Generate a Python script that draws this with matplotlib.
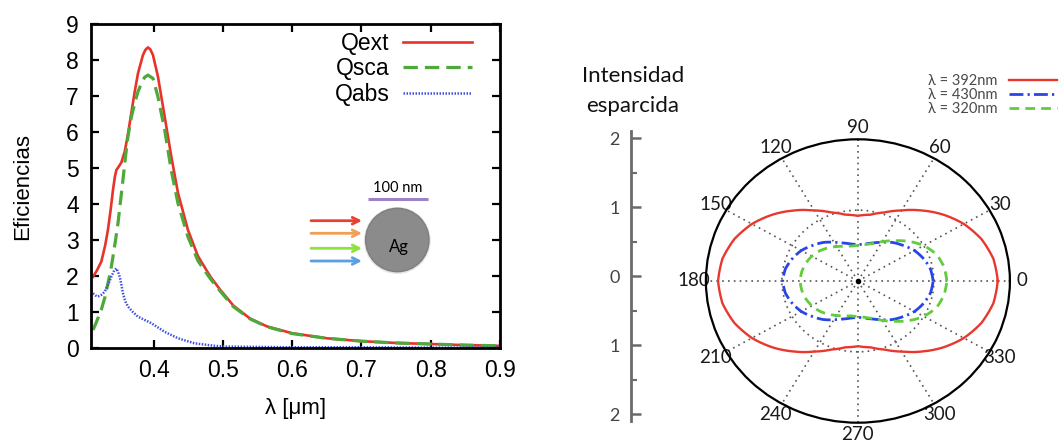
import numpy as np
import matplotlib
matplotlib.use("Agg")
import matplotlib.pyplot as plt
from matplotlib.patches import Circle

# Mie efficiencies of a 100 nm Ag sphere (wavelength in micrometres)
lam_ext = [0.3125, 0.318, 0.3245, 0.330, 0.334, 0.338, 0.3413, 0.344, 0.3461,
           0.350, 0.3533, 0.3582, 0.363, 0.3677, 0.3725, 0.3774, 0.3846, 0.388,
           0.3918, 0.395, 0.399, 0.4062, 0.4159, 0.4254, 0.4351, 0.4495, 0.464,
           0.482, 0.496, 0.515, 0.539, 0.5635, 0.60, 0.65, 0.70, 0.75, 0.80,
           0.85, 0.90]
q_ext = [1.98, 2.15, 2.40, 2.85, 3.28, 3.85, 4.39, 4.75, 4.94,
         5.05, 5.15, 5.45, 5.95, 6.52, 7.10, 7.63, 8.14, 8.28,
         8.35, 8.30, 8.14, 7.54, 6.43, 5.33, 4.31, 3.28, 2.55,
         1.98, 1.62, 1.18, 0.82, 0.60, 0.41, 0.27, 0.19, 0.14, 0.11,
         0.08, 0.06]

lam_sca = [0.3125, 0.318, 0.3244, 0.3295, 0.3341, 0.338, 0.3413, 0.345, 0.3485,
           0.352, 0.3557, 0.3593, 0.3629, 0.3677, 0.3726, 0.3774, 0.3822, 0.387,
           0.3918, 0.399, 0.4062, 0.4159, 0.4254, 0.4351, 0.4495, 0.464, 0.482,
           0.496, 0.515, 0.539, 0.5635, 0.60, 0.65, 0.70, 0.75, 0.80, 0.85, 0.90]
q_sca = [0.50, 0.75, 1.06, 1.40, 1.80, 2.15, 2.54, 3.00, 3.46,
         4.05, 4.67, 5.30, 5.87, 6.40, 6.80, 7.12, 7.35, 7.52,
         7.58, 7.49, 6.98, 6.06, 4.94, 4.02, 3.09, 2.42, 1.92,
         1.58, 1.15, 0.81, 0.59, 0.40, 0.27, 0.19, 0.14, 0.11, 0.08, 0.06]

lam_abs = [0.3125, 0.316, 0.3196, 0.324, 0.3293, 0.334, 0.3389, 0.343, 0.3461,
           0.3485, 0.351, 0.3535, 0.3557, 0.359, 0.3629, 0.370, 0.3774, 0.3966,
           0.4159, 0.4351, 0.4591, 0.488, 0.505, 0.55, 0.60, 0.70, 0.80, 0.90]
q_abs = [1.52, 1.46, 1.43, 1.47, 1.56, 1.75, 1.98, 2.15, 2.21,
         2.12, 1.98, 1.75, 1.52, 1.30, 1.15, 1.00, 0.87, 0.69,
         0.45, 0.27, 0.13, 0.06, 0.04, 0.03, 0.02, 0.02, 0.01, 0.01]

# scattered intensity vs angle (degrees)
theta_deg = list(range(0, 361, 10))
i_392 = [1.84, 1.81, 1.73, 1.61, 1.46, 1.30, 1.15, 1.03, 0.95, 0.92,
         0.95, 1.03, 1.15, 1.30, 1.46, 1.61, 1.73, 1.81, 1.84,
         1.81, 1.73, 1.61, 1.46, 1.30, 1.15, 1.03, 0.95, 0.92,
         0.95, 1.03, 1.15, 1.30, 1.46, 1.61, 1.73, 1.81, 1.84]
i_430 = [0.99, 0.97, 0.92, 0.86, 0.78, 0.71, 0.63, 0.57, 0.53, 0.51,
         0.53, 0.57, 0.63, 0.71, 0.78, 0.86, 0.92, 0.97, 0.99,
         0.97, 0.92, 0.86, 0.78, 0.71, 0.63, 0.57, 0.53, 0.51,
         0.53, 0.57, 0.63, 0.71, 0.78, 0.86, 0.92, 0.97, 0.99]
i_320 = [1.17, 1.15, 1.10, 1.00, 0.87, 0.74, 0.64, 0.56, 0.52, 0.50,
         0.50, 0.52, 0.56, 0.61, 0.66, 0.70, 0.73, 0.75, 0.76,
         0.75, 0.73, 0.70, 0.66, 0.61, 0.56, 0.52, 0.50, 0.50,
         0.52, 0.56, 0.64, 0.74, 0.87, 1.00, 1.10, 1.15, 1.17]

angle_ticks = list(range(0, 360, 30))
scale_ticks = [-2, -1, 0, 1, 2]
scale_labels = ["2", "1", "0", "1", "2"]

W, H = 1059, 442
sans = ["Liberation Sans", "DejaVu Sans"]
soft = ["Lato", "DejaVu Sans"]

fig = plt.figure(figsize=(W / 100, H / 100), dpi=100)

# --- efficiencies -----------------------------------------------------
ax = fig.add_axes([91.3 / W, 1 - 348 / H, (500 - 91.3) / W, (348 - 24) / H])
ax.plot(lam_ext, q_ext, color="#e8322a", lw=1.9, label="Qext")
ax.plot(lam_sca, q_sca, color="#4ea83a", lw=2.3, ls=(0, (4.5, 2.2)), label="Qsca")
ax.plot(lam_abs, q_abs, color="#3d4fe0", lw=1.8, ls=(0, (0.6, 0.6)), label="Qabs")

ax.set_xlim(0.31, 0.9)
ax.set_ylim(0, 9)
ax.set_xticks([0.4, 0.5, 0.6, 0.7, 0.8, 0.9])
ax.set_yticks(range(10))
ax.set_xticklabels(["0.4", "0.5", "0.6", "0.7", "0.8", "0.9"], family=sans)
ax.set_yticklabels([str(v) for v in range(10)], family=sans)
ax.tick_params(direction="in", top=True, right=True, length=6, width=1.6,
               labelsize=16.5)
ax.tick_params(axis="y", pad=9)
ax.tick_params(axis="x", pad=8)
for s in ax.spines.values():
    s.set_linewidth(2)
ax.set_xlabel("λ [μm]", fontsize=16, family=sans)
ax.set_ylabel("Eficiencias", fontsize=16, family=sans)
ax.xaxis.set_label_coords(0.5, -0.155)
ax.yaxis.set_label_coords(-0.143, 0.5)

ax.legend(loc="upper right", bbox_to_anchor=(472 / W, 1 - 32 / H),
          bbox_transform=fig.transFigure, frameon=False, markerfirst=False,
          prop={"family": sans, "size": 16.5}, handlelength=3.0,
          handletextpad=0.6, labelspacing=0.1, borderpad=0, borderaxespad=0)

# particle sketch
axi = fig.add_axes([300 / W, 1 - 280 / H, 140 / W, 105 / H])
axi.set_xlim(300, 440)
axi.set_ylim(280, 175)
axi.axis("off")
axi.text(398, 188, "100 nm", ha="center", va="center", fontsize=10.5, family=soft)
axi.plot([368, 428], [199.3, 199.3], color="#9b83c4", lw=2.2, solid_capstyle="butt")
for y, c in zip([220.7, 233.3, 248.3, 261], ["#e8412f", "#f0a055", "#8ee23f", "#5b9fe0"]):
    axi.annotate("", xy=(362, y), xytext=(311, y),
                 arrowprops=dict(arrowstyle="->", color=c, lw=2.0,
                                 shrinkA=0, shrinkB=0, mutation_scale=12))
axi.add_patch(Circle((397.3, 240.5), 33.5, fc="#dcdcdc", ec="none", alpha=0.7))
axi.add_patch(Circle((397.3, 240), 31.7, fc="#8b8b8b", ec="#7e7e7e", lw=1))
axi.text(398.5, 247, "Ag", ha="center", va="center", fontsize=12, family=soft)

# --- scattering pattern ----------------------------------------------
axs = fig.add_axes([631 / W, 1 - 420.9 / H, 0.02, 289.5 / H])
axs.set_ylim(-2.1, 2.1)
axs.set_facecolor("none")
for k in ("top", "right", "bottom"):
    axs.spines[k].set_visible(False)
axs.spines["left"].set(color="#6a6a6a", linewidth=2)
axs.set_xticks([])
axs.set_yticks(scale_ticks)
axs.set_yticklabels(scale_labels, family=soft)
axs.set_yticks([-1.5, -0.5, 0.5, 1.5], minor=True)
axs.tick_params(axis="y", which="major", direction="in", length=7.5, width=1.8,
                color="#6a6a6a", labelcolor="#444444", labelsize=13, pad=8)
axs.tick_params(axis="y", which="minor", direction="in", length=4, width=1.5,
                color="#6a6a6a")

fig.text(633 / W, 1 - 76 / H, "Intensidad", ha="center", va="center",
         fontsize=16, family=soft, color="#111111")
fig.text(633 / W, 1 - 106 / H, "esparcida", ha="center", va="center",
         fontsize=16, family=soft, color="#111111")

axp = fig.add_axes([705.9 / W, 1 - 422.7 / H, 304 / W, 283.4 / H],
                   projection="polar")
axp.set_aspect("auto")
th = np.deg2rad(theta_deg)
lines = []
lines += axp.plot(th, i_392, color="#e8382e", lw=1.7, label="λ = 392nm")
lines += axp.plot(th, i_430, color="#2a45e6", lw=2.0, ls=(0, (5, 1.5, 0.8, 1.5)), label="λ = 430nm")
lines += axp.plot(th, i_320, color="#62cc3c", lw=2.0, ls=(0, (3.5, 2.2)), label="λ = 320nm")
# let the polar transform bend each segment into an arc
for ln in lines:
    ln.get_path()._interpolation_steps = 24
axp.plot([0], [0], "o", color="black", ms=3)

axp.set_ylim(0, 2)
axp.set_rgrids([1])
axp.set_yticklabels([])
axp.set_thetagrids(angle_ticks, [str(a) for a in angle_ticks], family=soft,
                   fontsize=13.5, color="#1a1a1a")
axp.tick_params(axis="x", pad=-1.8)
axp.grid(True, color="#555555", lw=1.2, ls=(0, (1, 2.5)))
axp.spines["polar"].set(color="black", linewidth=1.6)

axp.legend(loc="upper right", bbox_to_anchor=(1057 / W, 1 - 74 / H),
           bbox_transform=fig.transFigure, frameon=False, markerfirst=False,
           prop={"family": soft, "size": 10.5}, labelcolor="#4a4a4a",
           handlelength=3.3, handletextpad=0.8, labelspacing=0.0,
           borderpad=0, borderaxespad=0)

fig.savefig("out.png", dpi=100)
